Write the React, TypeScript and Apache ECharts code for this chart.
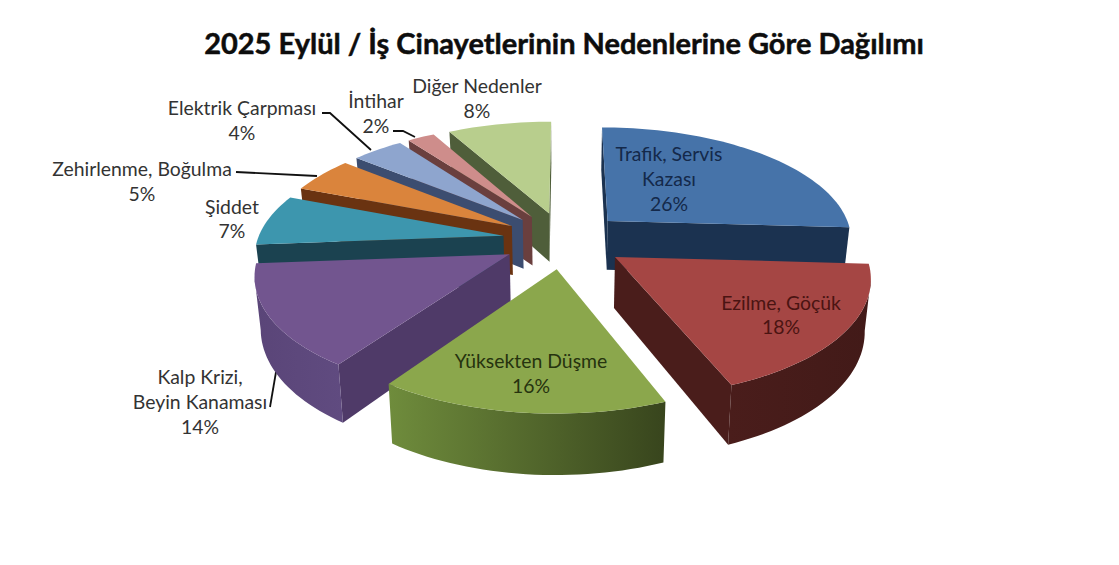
import React, { useEffect, useRef } from "react";
import * as echarts from "echarts";

const chartTitle = "2025 Eylül / İş Cinayetlerinin Nedenlerine Göre Dağılımı";
const sliceNames = [
  "Trafik, Servis Kazası",
  "Ezilme, Göçük",
  "Yüksekten Düşme",
  "Kalp Krizi, Beyin Kanaması",
  "Şiddet",
  "Zehirlenme, Boğulma",
  "Elektrik Çarpması",
  "İntihar",
  "Diğer Nedenler",
];
const sliceValues = [25.9, 18.1, 15.65, 14.15, 7.1, 5, 4, 2.1, 8];

const topColors = ["#4673A9", "#A54644", "#8BA74C", "#72558F", "#3D96AE", "#DA843C", "#8EA5CE", "#CE8D8B", "#B8CE8D"];
const wallColors = ["#1B3250", "#4A1D1B", "#5A6E30", "#4F3A68", "#1B4250", "#6A3311", "#3C4D70", "#6A3F3E", "#4F5E3A"];
const rimLeftColors = ["#1B3250", "#4A1D1B", "#6F8C3C", "#5A4578", "#1B4250", "#6A3311", "#3C4D70", "#6A3F3E", "#4F5E3A"];
const rimRightColors = ["#1B3250", "#421A18", "#38451D", "#604B80", "#1B4250", "#6A3311", "#3C4D70", "#6A3F3E", "#4F5E3A"];

const GEO = { cx: 564, cy: 240, rx: 246, ry: 113, k: 0.15, explode: 0.25, depth: 50, taper: 0.02 };

function project(u: number, v: number, down: number) {
  const s = 1 / (1 + GEO.k * v);
  return [GEO.cx + GEO.rx * u * s * (1 - GEO.taper * down), GEO.cy - GEO.ry * v * s + down * GEO.depth * s];
}

const total = sliceValues.reduce((a, b) => a + b, 0);
const startAngles: number[] = [];
sliceValues.reduce((acc, val) => {
  startAngles.push((acc / total) * Math.PI * 2);
  return acc + val;
}, 0);

function renderSlice(_params: any, api: any) {
  const i = api.value(0);
  const a0 = startAngles[i];
  const a1 = a0 + (sliceValues[i] / total) * Math.PI * 2;
  const mid = (a0 + a1) / 2;
  const ou = GEO.explode * Math.sin(mid);
  const ov = GEO.explode * Math.cos(mid);
  const steps = Math.max(4, Math.ceil((a1 - a0) / 0.03));
  const rimU: number[] = [];
  const rimV: number[] = [];
  for (let j = 0; j <= steps; j++) {
    const a = a0 + ((a1 - a0) * j) / steps;
    rimU.push(ou + Math.sin(a));
    rimV.push(ov + Math.cos(a));
  }
  const rimTop = rimU.map((u, j) => project(u, rimV[j], 0));
  const rimBottom = rimU.map((u, j) => project(u, rimV[j], 1));
  const tipTop = project(ou, ov, 0);
  const tipBottom = project(ou, ov, 1);
  const children: any[] = [];
  const poly = (points: number[][], fill: any) => ({
    type: "polygon",
    shape: { points },
    style: { fill, stroke: "none" },
    silent: true,
  });
  // radial walls, only the ones facing the viewer
  if (rimTop[0][0] < tipTop[0]) {
    children.push(poly([tipTop, rimTop[0], rimBottom[0], tipBottom], wallColors[i]));
  }
  if (rimTop[steps][0] > tipTop[0]) {
    children.push(poly([tipTop, rimTop[steps], rimBottom[steps], tipBottom], wallColors[i]));
  }
  // outer wall, only the stretch where x falls as the angle grows
  const visTop: number[][] = [];
  const visBottom: number[][] = [];
  for (let j = 0; j <= steps; j++) {
    const falling = (j < steps && rimTop[j + 1][0] < rimTop[j][0]) || (j > 0 && rimTop[j][0] < rimTop[j - 1][0]);
    if (falling) {
      visTop.push(rimTop[j]);
      visBottom.push(rimBottom[j]);
    }
  }
  if (visTop.length > 1) {
    children.push(
      poly(
        [...visTop, ...visBottom.reverse()],
        new echarts.graphic.LinearGradient(0, 0, 1, 0, [
          { offset: 0, color: rimLeftColors[i] },
          { offset: 1, color: rimRightColors[i] },
        ])
      )
    );
  }
  children.push(poly([tipTop, ...rimTop], topColors[i]));
  return { type: "group", children };
}

// paint from the back of the pie to the front
const paintOrder = sliceValues
  .map((_, i) => i)
  .sort((a, b) => {
    const mid = (i: number) => startAngles[i] + (sliceValues[i] / total) * Math.PI;
    return Math.cos(mid(b)) - Math.cos(mid(a));
  });

const pct = (i: number) => Math.round(sliceValues[i]) + "%";
const LABEL_SIZE = 19.4;
const labelLines: { text: string; x: number; y: number; color: string }[] = [
  { text: "Trafik, Servis", x: 669, y: 153, color: "#14294a" },
  { text: "Kazası", x: 669, y: 178, color: "#14294a" },
  { text: pct(0), x: 669, y: 203, color: "#14294a" },
  { text: sliceNames[1], x: 781, y: 302, color: "#4a1412" },
  { text: pct(1), x: 781, y: 326, color: "#4a1412" },
  { text: sliceNames[2], x: 531, y: 360, color: "#26330f" },
  { text: pct(2), x: 531, y: 385, color: "#26330f" },
  { text: "Kalp Krizi,", x: 200, y: 376, color: "#333333" },
  { text: "Beyin Kanaması", x: 200, y: 401, color: "#333333" },
  { text: pct(3), x: 200, y: 426, color: "#333333" },
  { text: sliceNames[4], x: 232, y: 206, color: "#333333" },
  { text: pct(4), x: 232, y: 230, color: "#333333" },
  { text: sliceNames[5], x: 142, y: 168, color: "#333333" },
  { text: pct(5), x: 142, y: 193, color: "#333333" },
  { text: sliceNames[6], x: 242, y: 107, color: "#333333" },
  { text: pct(6), x: 242, y: 132, color: "#333333" },
  { text: sliceNames[7], x: 376, y: 100, color: "#333333" },
  { text: pct(7), x: 376, y: 125, color: "#333333" },
  { text: sliceNames[8], x: 477, y: 85, color: "#333333" },
  { text: pct(8), x: 477, y: 110, color: "#333333" },
];

const leaders: number[][][] = [
  [[322, 113], [330, 113], [371, 150]],
  [[393, 131], [403, 131], [415, 137]],
  [[236, 172], [317, 176]],
  [[270, 407], [276, 372]],
];

export default function App() {
  const ref = useRef<HTMLDivElement>(null);
  useEffect(() => {
    const chart = echarts.init(ref.current!, undefined, { renderer: "svg" });
    chart.setOption({
      animation: false,
      backgroundColor: "#ffffff",
      series: [
        {
          type: "custom",
          coordinateSystem: "none",
          silent: true,
          renderItem: renderSlice,
          data: paintOrder.map((i) => ({ name: sliceNames[i], value: [i, sliceValues[i]] })),
          z: 2,
        },
      ],
      graphic: {
        elements: [
          {
            type: "text",
            x: 564,
            y: 42,
            z: 20,
            style: {
              text: chartTitle,
              fontFamily: "Lato",
              fontWeight: "bold",
              fontSize: 29,
              fill: "#0d0d0d",
              stroke: "#0d0d0d",
              lineWidth: 0.5,
              align: "center",
              verticalAlign: "middle",
            },
          },
          ...leaders.map((points) => ({
            type: "polyline",
            z: 1,
            silent: true,
            shape: { points },
            style: { stroke: "#111111", lineWidth: 1.8, fill: "none" },
          })),
          ...labelLines.map((l) => ({
            type: "text",
            x: l.x,
            y: l.y,
            z: 20,
            style: {
              text: l.text,
              fontFamily: "Lato",
              fontSize: LABEL_SIZE,
              fill: l.color,
              align: "center",
              verticalAlign: "middle",
            },
          })),
        ],
      },
    });
    return () => chart.dispose();
  }, []);
  return <div ref={ref} style={{ position: "absolute", left: 0, top: 0, width: 1119, height: 565 }} />;
}
